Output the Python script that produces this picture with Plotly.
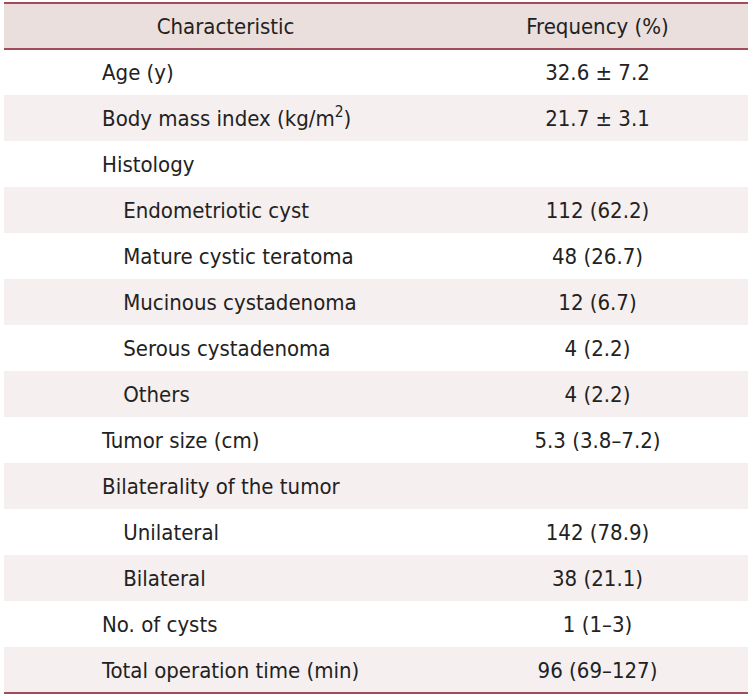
import plotly.graph_objects as go

# ---- data ----
header_labels = ["Characteristic", "Frequency (%)"]
characteristics = [
    "Age (y)",
    "Body mass index (kg/m<sup>2</sup>)",
    "Histology",
    "Endometriotic cyst",
    "Mature cystic teratoma",
    "Mucinous cystadenoma",
    "Serous cystadenoma",
    "Others",
    "Tumor size (cm)",
    "Bilaterality of the tumor",
    "Unilateral",
    "Bilateral",
    "No. of cysts",
    "Total operation time (min)",
]
indent_level = [0, 0, 0, 1, 1, 1, 1, 1, 0, 0, 1, 1, 0, 0]
frequencies = [
    "32.6 ± 7.2",
    "21.7 ± 3.1",
    "",
    "112 (62.2)",
    "48 (26.7)",
    "12 (6.7)",
    "4 (2.2)",
    "4 (2.2)",
    "5.3 (3.8–7.2)",
    "",
    "142 (78.9)",
    "38 (21.1)",
    "1 (1–3)",
    "96 (69–127)",
]

# ---- styling ----
W, H = 755, 697
FONT = "DejaVu Sans Condensed, Liberation Sans Narrow, sans-serif"
FS = 22
TXT = "#222222"
HEAD_FILL = "#eadfdd"
STRIPE = "#f6efef"
LINE = "#a24b5b"
ROW_H = 46
X0, X1 = 4, 748
TOP = 3
COL_W = [443, 301]

NB = "\u00a0"
TH = "\u2009"
# small raised spacer so every cell's text sits vertically centred like the reference
LIFT = "<sup>" + NB + "</sup>"
pad = {0: NB * 13 + TH, 1: NB * 17}


def centred(s):
    return LIFT + s + LIFT if s else s


label_txt = [LIFT + pad[l] + c for l, c in zip(indent_level, characteristics)]
value_txt = [centred(v) for v in frequencies]
head_txt = [centred(h) for h in header_labels]
fills = [("white" if i % 2 == 0 else STRIPE) for i in range(len(characteristics))]

fig = go.Figure(
    go.Table(
        domain=dict(x=[X0 / W, X1 / W], y=[1 - (TOP + ROW_H * 15) / H, 1 - TOP / H]),
        columnwidth=COL_W,
        header=dict(
            values=head_txt,
            fill_color=HEAD_FILL,
            line=dict(color=HEAD_FILL, width=0),
            align=["center", "center"],
            font=dict(family=FONT, size=FS, color=TXT),
            height=ROW_H,
        ),
        cells=dict(
            values=[label_txt, value_txt],
            fill_color=[fills, fills],
            line=dict(color=[fills, fills], width=0),
            align=["left", "center"],
            font=dict(family=FONT, size=FS, color=TXT),
            height=ROW_H,
        ),
    )
)

bottom = TOP + ROW_H * 15
for yy in [TOP, TOP + ROW_H, bottom]:
    fig.add_shape(
        type="line", xref="paper", yref="paper",
        x0=X0 / W, x1=X1 / W, y0=1 - yy / H, y1=1 - yy / H,
        line=dict(color=LINE, width=2),
    )

fig.update_layout(
    width=W, height=H,
    margin=dict(l=0, r=0, t=0, b=0),
    paper_bgcolor="white",
    plot_bgcolor="white",
)

fig.write_html(
    "out.html",
    config={"displayModeBar": False},
    post_script="document.body.style.margin='0';",
)
